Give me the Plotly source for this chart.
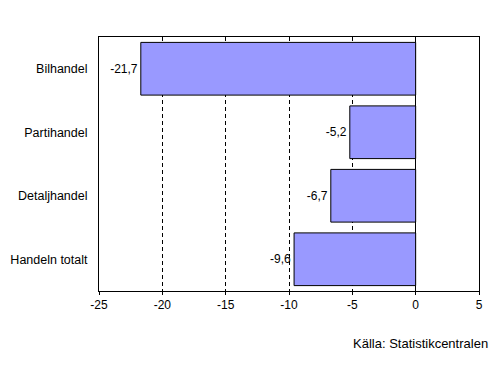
import plotly.graph_objects as go

categories = ["Bilhandel", "Partihandel", "Detaljhandel", "Handeln totalt"]
values = [-21.7, -5.2, -6.7, -9.6]
labels = ["-21,7", "-5,2", "-6,7", "-9,6"]
x_ticks = [-25, -20, -15, -10, -5, 0, 5]
source = "Källa: Statistikcentralen"

FONT = "Liberation Sans, Arial, sans-serif"

# page body has an 8px default margin; figure sized to fit the window
W, H = 495, 362
L, R, T, B = 91, 24, 29, 79
pw, ph = W - L - R, H - T - B

fig = go.Figure()
fig.add_trace(go.Bar(
    y=categories, x=values, orientation="h",
    marker=dict(color="#9999FF", line=dict(color="black", width=1)),
    text=labels, textposition="outside", cliponaxis=False,
    textfont=dict(family=FONT, size=12, color="black"),
    width=0.83,
))

fig.update_layout(
    width=W, height=H,
    margin=dict(l=L, r=R, t=T, b=B, autoexpand=False),
    paper_bgcolor="white", plot_bgcolor="white",
    showlegend=False,
    separators=", ",
    font=dict(family=FONT, size=12, color="black"),
    xaxis=dict(
        range=[-25, 5], tickvals=x_ticks, ticktext=[str(v) for v in x_ticks],
        showgrid=True, gridcolor="black", griddash="4px,3px", gridwidth=1,
        zeroline=True, zerolinecolor="black", zerolinewidth=1,
        showline=True, mirror=True, linecolor="black", linewidth=1,
        ticks="outside", ticklen=3, tickcolor="black",
        tickfont=dict(family=FONT, size=12), ticklabelstandoff=0,
        fixedrange=True,
    ),
    yaxis=dict(
        categoryorder="array", categoryarray=categories, autorange="reversed",
        showgrid=False, zeroline=False,
        showline=True, mirror=True, linecolor="black", linewidth=1,
        ticks="", tickfont=dict(family=FONT, size=12.5), ticklabelstandoff=8,
        fixedrange=True,
    ),
    annotations=[dict(
        text=source, xref="paper", yref="paper",
        x=(482 - L) / pw, y=-(335 - (H - B)) / ph,
        xanchor="right", yanchor="middle", showarrow=False,
        font=dict(family=FONT, size=13, color="black"),
    )],
)

fig.write_html("out.html")
